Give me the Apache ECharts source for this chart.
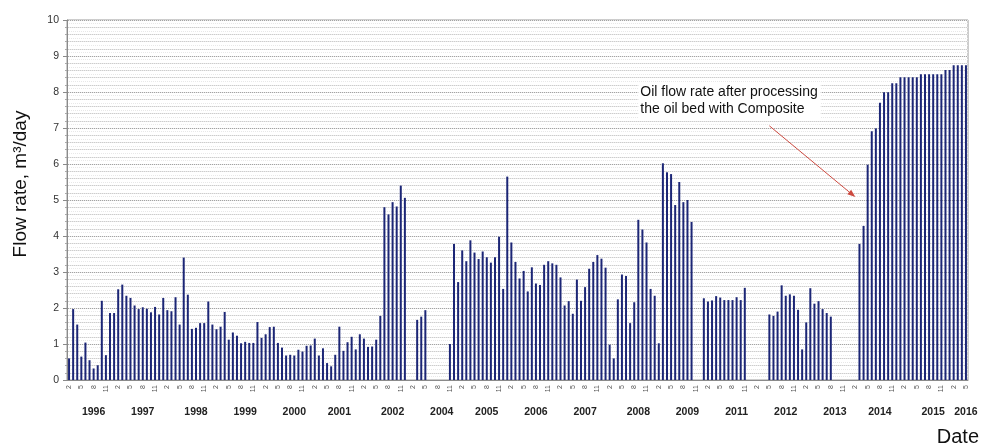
<!DOCTYPE html>
<html><head><meta charset="utf-8">
<script src="https://cdn.jsdelivr.net/npm/echarts@6/dist/echarts.min.js"></script>
<style>html,body{margin:0;padding:0;background:#fff}#c{width:981px;height:445px}</style>
</head><body><div id="c"></div>
<script>
// Monthly oil flow rate, m3/day (null = no measurement)
const flowRate = [
  0.6, 1.97, 1.54, 0.65, 1.04, 0.55, 0.32, 0.41, 2.2, 0.69,
  1.86, 1.86, 2.52, 2.65, 2.34, 2.28, 2.07, 1.97, 2.02, 1.98,
  1.88, 2.03, 1.82, 2.28, 1.94, 1.91, 2.3, 1.54, 3.4, 2.37,
  1.42, 1.45, 1.58, 1.58, 2.18, 1.54, 1.41, 1.48, 1.89, 1.12,
  1.32, 1.23, 1.02, 1.06, 1.03, 1.03, 1.61, 1.17, 1.27, 1.47,
  1.48, 1.03, 0.9, 0.68, 0.7, 0.68, 0.84, 0.79, 0.95, 0.96,
  1.15, 0.68, 0.88, 0.47, 0.38, 0.7, 1.48, 0.81, 1.05, 1.2,
  0.85, 1.27, 1.15, 0.92, 0.93, 1.12, 1.78, 4.8, 4.6, 4.94,
  4.82, 5.4, 5.06, null, null, 1.67, 1.76, 1.94, null, null,
  null, null, null, 1.0, 3.78, 2.72, 3.6, 3.3, 3.88, 3.54,
  3.36, 3.57, 3.41, 3.26, 3.41, 3.98, 2.53, 5.65, 3.82, 3.28,
  2.82, 3.03, 2.46, 3.13, 2.68, 2.64, 3.2, 3.3, 3.24, 3.2,
  2.85, 2.07, 2.19, 1.84, 2.79, 2.2, 2.58, 3.09, 3.28, 3.47,
  3.37, 3.12, 0.98, 0.6, 2.24, 2.93, 2.89, 1.58, 2.16, 4.45,
  4.18, 3.82, 2.53, 2.34, 1.02, 6.02, 5.77, 5.72, 4.86, 5.5,
  4.94, 5.0, 4.39, null, null, 2.27, 2.18, 2.21, 2.33, 2.29,
  2.22, 2.22, 2.22, 2.3, 2.22, 2.56, null, null, null, null,
  null, 1.82, 1.78, 1.9, 2.63, 2.34, 2.38, 2.34, 1.95, 0.85,
  1.6, 2.55, 2.12, 2.19, 1.97, 1.86, 1.76, null, null, null,
  null, null, null, 3.78, 4.28, 5.98, 6.91, 6.99, 7.7, 7.99,
  7.99, 8.24, 8.24, 8.41, 8.41, 8.41, 8.41, 8.41, 8.49, 8.49,
  8.49, 8.49, 8.49, 8.49, 8.61, 8.61, 8.74, 8.74, 8.74, 8.74
];
// month number of each slot (first slot is month 2)
const monthLabels = flowRate.map((_, i) => String(((i + 1) % 12) + 1));
// year captions and the slot they are centred under
const yearLabels = ['1996','1997','1998','1999','2000','2001','2002','2004','2005','2006','2007','2008','2009','2011','2012','2013','2014','2015','2016'];
const yearSlots  = [6, 18, 31, 43, 55, 66, 79, 91, 102, 114, 126, 139, 151, 163, 175, 187, 198, 211, 219];
const yearAxisData = monthLabels.map((_, i) => { const k = yearSlots.indexOf(i); return k >= 0 ? yearLabels[k] : ''; });
const annotationText = 'Oil flow rate after processing\nthe oil bed with Composite';
const yAxisTitle = 'Flow rate, m³/day';
const xAxisTitle = 'Date';

const FONT = '"Liberation Sans", Arial, sans-serif';
const chart = echarts.init(document.getElementById('c'), null, {renderer: 'canvas'});
chart.setOption({
  animation: false,
  textStyle: {fontFamily: FONT},
  grid: {left: 67, right: 13, top: 20, bottom: 65, show: true, borderColor: '#9a9a9a', borderWidth: 1, backgroundColor: 'transparent'},
  xAxis: [
    {type: 'category', data: monthLabels, boundaryGap: true,
     axisLine: {lineStyle: {color: '#8a8a8a'}},
     axisTick: {show: false},
     axisLabel: {interval: 2, rotate: 90, fontSize: 7, color: '#555', margin: 5, fontFamily: FONT}},
    {type: 'category', data: yearAxisData, position: 'bottom', boundaryGap: true,
     axisLine: {show: false}, axisTick: {show: false}, splitLine: {show: false},
     axisLabel: {interval: 0, fontSize: 10.5, fontWeight: 'bold', color: '#222', margin: 27, fontFamily: FONT}}
  ],
  yAxis: [
    {type: 'value', min: 0, max: 10, interval: 1,
     axisLine: {show: true, lineStyle: {color: '#8a8a8a'}},
     axisTick: {show: true, length: 4, lineStyle: {color: '#8a8a8a'}},
     minorTick: {show: true, splitNumber: 5, length: 2, lineStyle: {color: '#aaa'}},
     axisLabel: {fontSize: 10.5, color: '#333', margin: 8, fontFamily: FONT},
     splitLine: {show: true, lineStyle: {color: '#a4a4a4', width: 1}},
     minorSplitLine: {show: true, lineStyle: {color: '#cdcdcd', width: 1}}},
    {type: 'value', min: 0, max: 10, interval: 0.1, position: 'left',
     axisLine: {show: false}, axisTick: {show: false}, axisLabel: {show: false},
     splitLine: {show: true, lineStyle: {color: '#e8e8e8', type: 'dotted', width: 1}}}
  ],
  series: [{
    type: 'bar', data: flowRate, xAxisIndex: 0, yAxisIndex: 0,
    barWidth: 2, itemStyle: {color: '#1c2676'}, z: 3
  }]
});

// annotation anchored in data space
const toPx = (p) => chart.convertToPixel({xAxisIndex: 0, yAxisIndex: 0}, p);
const p0 = toPx([171, 7.06]);
const p1 = toPx([192.4, 5.08]);
const dx = p1[0] - p0[0], dy = p1[1] - p0[1], L = Math.hypot(dx, dy);
const ux = dx / L, uy = dy / L, hl = 8, hw = 3;
const bx = p1[0] - ux * hl, by = p1[1] - uy * hl;
const tl = toPx([139.3, 8.28]);
chart.setOption({
  graphic: [
    {type: 'text', x: 21, y: 184, rotation: Math.PI / 2, z: 10,
     style: {text: yAxisTitle, font: '19px ' + FONT, fill: '#111', align: 'center', verticalAlign: 'middle'}},
    {type: 'text', left: tl[0], top: tl[1], z: 10,
     style: {text: annotationText, font: '14px ' + FONT, fill: '#111', lineHeight: 16.5,
             backgroundColor: '#fff', padding: [2, 3, 2, 2]}},
    {type: 'line', z: 10, shape: {x1: p0[0], y1: p0[1], x2: bx, y2: by},
     style: {stroke: '#cc4a40', lineWidth: 1}},
    {type: 'polygon', z: 10, shape: {points: [[p1[0], p1[1]], [bx - uy * hw, by + ux * hw], [bx + uy * hw, by - ux * hw]]},
     style: {fill: '#cc4a40'}},
    {type: 'text', right: 2, top: 427, z: 10,
     style: {text: xAxisTitle, font: '20px ' + FONT, fill: '#111'}}
  ]
});
</script>
</body></html>
